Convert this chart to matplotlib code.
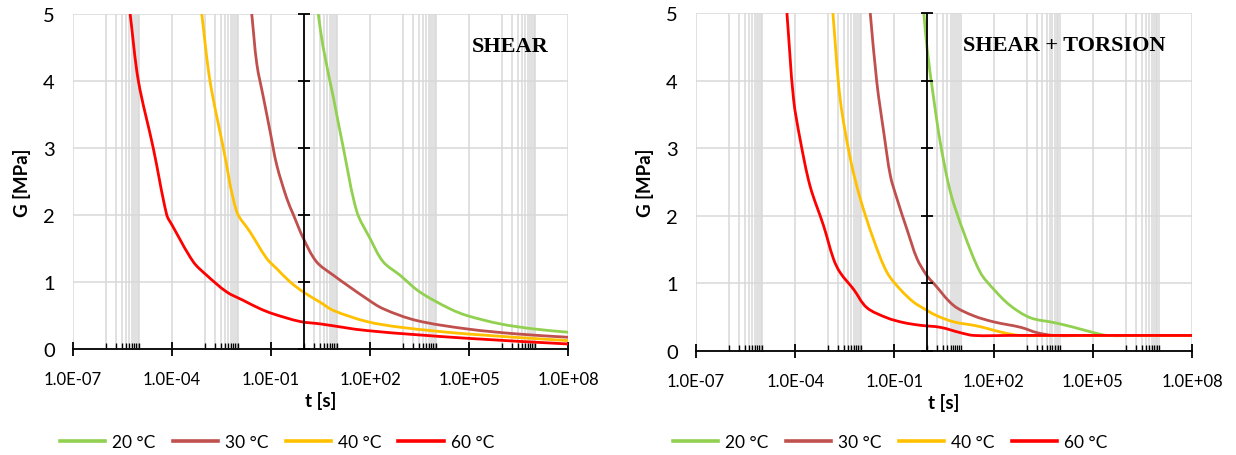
import numpy as np
import matplotlib
matplotlib.use("Agg")
from matplotlib import pyplot as plt
from matplotlib.path import Path
from matplotlib.patches import PathPatch
from matplotlib.lines import Line2D
from matplotlib.ticker import NullFormatter

plt.rcParams['font.family'] = ['Lato', 'DejaVu Sans']

# temperatures and colours
labels = ['20 °C', '30 °C', '40 °C', '60 °C']
colors = ['#92D050', '#C0504D', '#FFC000', '#FF0000']

# SHEAR panel: log10(t) and G [MPa]
shear_20_logt = [0.43, 0.58, 0.89, 1.19, 1.6, 2.0, 2.4, 2.91, 3.51, 4.42, 4.93, 5.94, 6.95, 8.0]
shear_20_g = [5.0, 4.5, 3.75, 3.0, 2.05, 1.65, 1.3, 1.1, 0.85, 0.6, 0.5, 0.375, 0.3, 0.25]
shear_30_logt = [-1.585, -1.43, -1.23, -1.03, -0.83, -0.525, -0.32, -0.02, 0.38, 0.89, 1.9, 2.4, 3.41, 4.93, 6.44, 8.0]
shear_30_g = [5.0, 4.25, 3.75, 3.25, 2.75, 2.25, 2.0, 1.65, 1.3, 1.1, 0.75, 0.6, 0.425, 0.3, 0.225, 0.175]
shear_40_logt = [-3.1, -2.85, -2.445, -2.04, -1.64, -1.13, -0.83, -0.42, -0.02, 0.48, 0.89, 1.9, 2.91, 4.93, 8.0]
shear_40_g = [5.0, 4.0, 3.0, 2.05, 1.75, 1.35, 1.2, 1.0, 0.85, 0.7, 0.575, 0.41, 0.325, 0.225, 0.125]
shear_60_logt = [-5.27, -5.02, -4.57, -4.16, -4.0, -3.355, -2.95, -2.34, -1.84, -1.33, -0.94, -0.12, 0.48, 1.9, 4.93, 8.0]
shear_60_g = [5.0, 4.0, 3.0, 2.0, 1.85, 1.3, 1.1, 0.85, 0.725, 0.6, 0.525, 0.41, 0.375, 0.275, 0.16, 0.075]

# SHEAR + TORSION panel
tors_20_logt = [-0.11, -0.01, 0.19, 0.39, 0.7, 1.1, 1.6, 2.01, 2.51, 3.12, 3.83, 4.43, 5.04, 5.44, 6.5, 8.0]
tors_20_g = [5.0, 4.47, 3.73, 3.08, 2.34, 1.75, 1.16, 0.91, 0.67, 0.49, 0.42, 0.35, 0.27, 0.23, 0.23, 0.23]
tors_30_logt = [-1.73, -1.53, -1.32, -1.12, -0.92, -0.62, -0.31, -0.01, 0.19, 0.8, 1.4, 2.01, 2.82, 3.32, 3.83, 5.0, 6.5, 8.0]
tors_30_g = [5.0, 3.97, 3.23, 2.59, 2.25, 1.8, 1.36, 1.11, 1.0, 0.67, 0.52, 0.43, 0.35, 0.27, 0.23, 0.23, 0.23, 0.23]
tors_40_logt = [-2.86, -2.64, -2.33, -2.03, -1.63, -1.22, -0.82, -0.41, -0.01, 0.29, 0.8, 1.5, 2.31, 2.82, 4.0, 5.5, 8.0]
tors_40_g = [5.0, 3.73, 2.84, 2.25, 1.65, 1.16, 0.91, 0.72, 0.6, 0.52, 0.43, 0.37, 0.27, 0.23, 0.23, 0.23, 0.23]
tors_60_logt = [-4.25, -4.05, -3.85, -3.55, -3.14, -2.84, -2.64, -2.23, -1.83, -1.22, -0.72, -0.21, 0.39, 1.0, 1.4, 2.5, 4.0, 5.5, 8.0]
tors_60_g = [5.0, 3.73, 3.13, 2.44, 1.85, 1.36, 1.16, 0.91, 0.64, 0.49, 0.42, 0.38, 0.35, 0.27, 0.23, 0.23, 0.23, 0.23, 0.23]

shear = [(shear_20_logt, shear_20_g), (shear_30_logt, shear_30_g),
         (shear_40_logt, shear_40_g), (shear_60_logt, shear_60_g)]
torsion = [(tors_20_logt, tors_20_g), (tors_30_logt, tors_30_g),
           (tors_40_logt, tors_40_g), (tors_60_logt, tors_60_g)]

xmajor = [1e-7, 1e-4, 1e-1, 1e2, 1e5, 1e8]
yticks = [0, 1, 2, 3, 4, 5]
# excel style minor lines (1..10 x 10^(3n+1))
xminor = [k * m * 10 for m in xmajor[:-1] for k in range(1, 11)]

grid_c = '#d9d9d9'

fig = plt.figure(figsize=(12.36, 4.56), dpi=100)
ax1 = fig.add_axes([0.0591, 0.2325, 0.4005, 0.7346])
ax2 = fig.add_axes([0.5631, 0.2281, 0.4013, 0.7410])


def smooth_path(lt, g):
    # smoothed line like excel: bezier segments, tangents from neighbours,
    # handle length = third of the segment (in axis-normalised units)
    x = np.asarray(lt, float) / 15.0
    y = np.asarray(g, float) / 5.0
    n = len(x)
    tx = np.zeros(n)
    ty = np.zeros(n)
    for i in range(n):
        a = max(i - 1, 0)
        b = min(i + 1, n - 1)
        dx, dy = x[b] - x[a], y[b] - y[a]
        d = np.hypot(dx, dy)
        tx[i], ty[i] = dx / d, dy / d
    verts = [(x[0], y[0])]
    codes = [Path.MOVETO]
    for i in range(n - 1):
        s = np.hypot(x[i + 1] - x[i], y[i + 1] - y[i]) / 3
        verts += [(x[i] + tx[i] * s, y[i] + ty[i] * s),
                  (x[i + 1] - tx[i + 1] * s, y[i + 1] - ty[i + 1] * s),
                  (x[i + 1], y[i + 1])]
        codes += [Path.CURVE4] * 3
    verts = [(10 ** (vx * 15.0), vy * 5.0) for vx, vy in verts]
    return Path(verts, codes)


def setup(ax, data, title, title_dx):
    for (lt, g), c in zip(data, colors):
        ax.add_patch(PathPatch(smooth_path(lt, g), fill=False, edgecolor=c, lw=2.0,
                               joinstyle='round', capstyle='butt', zorder=3))
    ax.set_xscale('log')
    ax.set_xlim(1e-7, 1e8)
    ax.set_ylim(0, 5)
    ax.set_xticks(xmajor)
    ax.set_xticks(xminor, minor=True)
    ax.xaxis.set_minor_formatter(NullFormatter())
    ax.set_xticklabels(['%.1E' % v for v in xmajor])
    ax.set_yticks(yticks)
    ax.grid(True, which='major', color=grid_c, lw=1.1, zorder=0)
    ax.grid(True, which='minor', axis='x', color=grid_c, lw=1.1, zorder=0)
    for s in ['top', 'right', 'left']:
        ax.spines[s].set_visible(False)
    ax.spines['bottom'].set_linewidth(1.3)
    ax.spines['bottom'].set_zorder(4)
    ax.tick_params(axis='x', which='major', direction='inout', length=10, width=1.3, pad=11, labelsize=12)
    ax.tick_params(axis='x', which='minor', direction='in', length=4, width=1.0)
    ax.tick_params(axis='y', length=0, pad=13, labelsize=14.5)
    # vertical axis crossing at t = 1 s
    ax.axvline(1, color='black', lw=1.3, zorder=4)
    ax.plot([1] * len(yticks), yticks, ls='none', marker='_', ms=9, mew=1.3, color='black', zorder=4, clip_on=False)
    ax.set_xlabel('t [s]', fontsize=13.5, fontweight='bold', labelpad=3)
    ax.set_ylabel('G [MPa]', fontsize=13.5, fontweight='bold', labelpad=9)
    ax.text(1 - title_dx, 0.905, title, transform=ax.transAxes, ha='right', va='center',
            fontsize=16, fontweight='bold', family='Liberation Serif')


setup(ax1, shear, 'SHEAR', 0.04)
setup(ax2, torsion, 'SHEAR + TORSION', 0.054)

handles = [Line2D([], [], color=c, lw=2.6) for c in colors]
for cx in [0.224, 0.72]:
    fig.legend(handles, labels, loc='center', ncol=4, bbox_to_anchor=(cx, 0.028),
               frameon=False, fontsize=12.5, handlelength=2.6, handletextpad=0.4, columnspacing=1.0)

fig.savefig('out.png', dpi=100)
